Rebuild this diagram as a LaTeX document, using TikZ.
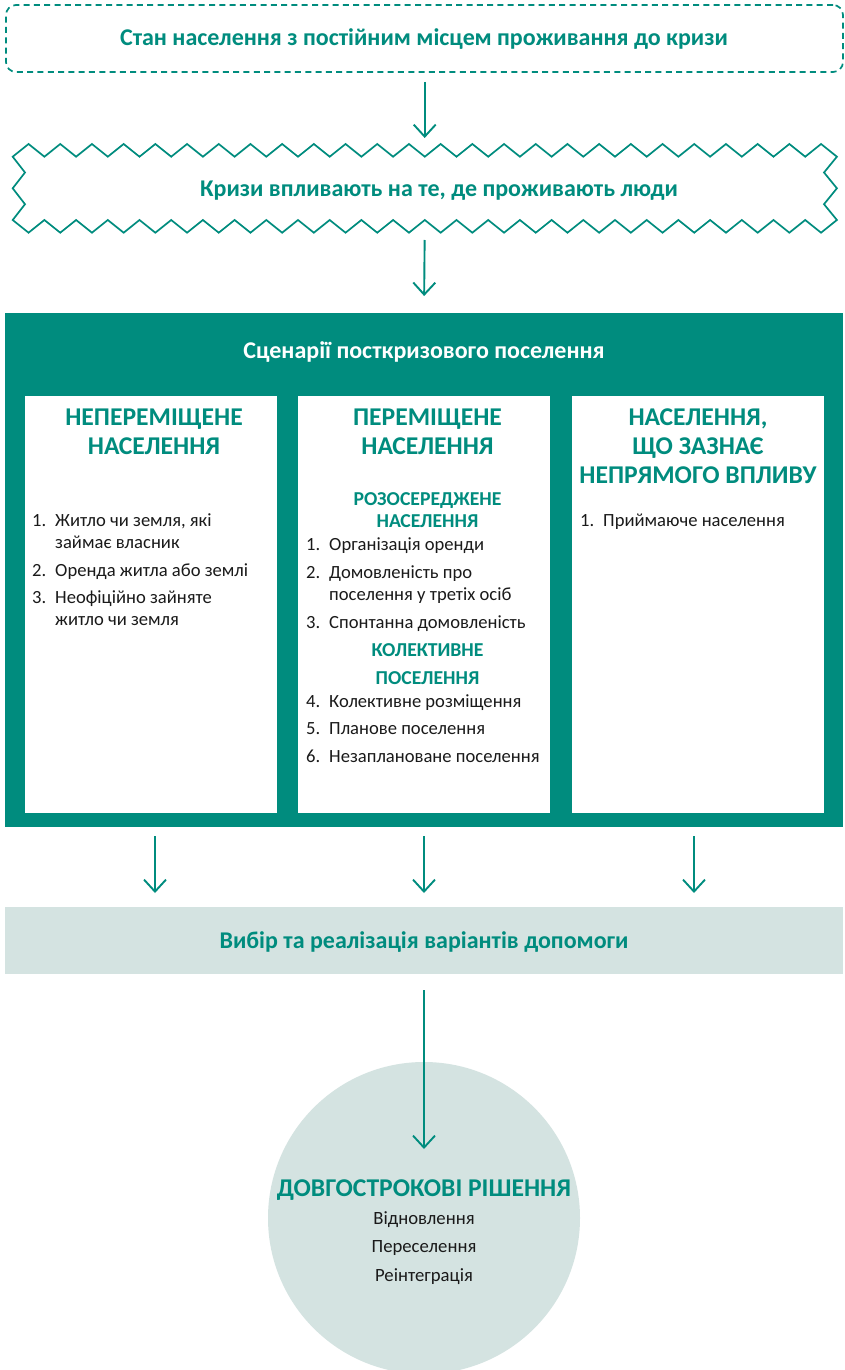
\documentclass[tikz,border=0pt]{standalone}
\usepackage{fontspec}
\setmainfont{Carlito}
\usetikzlibrary{arrows.meta}
\definecolor{teal1}{HTML}{008C7E}
\definecolor{pale}{HTML}{D4E3E1}
\definecolor{ink}{HTML}{1A1A1A}
\newcommand{\nm}[1]{\makebox[23pt][l]{#1}}
\begin{document}
\begin{tikzpicture}[x=1pt,y=-1pt,
  arr/.style={draw=teal1, line width=1.9pt, -{Straight Barb[length=12pt,width=22pt]}},
  box/.style={inner sep=0pt, outer sep=0pt, anchor=north west},
  ttl/.style={anchor=base, inner sep=0pt, font=\bfseries\fontsize{24}{24}\selectfont, text=teal1},
  head/.style={anchor=base, inner sep=0pt, font=\bfseries\fontsize{25.6}{25.6}\selectfont, text=teal1},
  sub/.style={anchor=base, inner sep=0pt, font=\bfseries\fontsize{19.7}{19.7}\selectfont, text=teal1},
  item/.style={anchor=base west, inner sep=0pt, font=\fontsize{18.6}{18.6}\selectfont, text=ink},
  sol/.style={anchor=base, inner sep=0pt, font=\fontsize{18.7}{18.7}\selectfont, text=ink}]
\useasboundingbox (0,0) rectangle (845,1370);
\fill[white] (0,0) rectangle (845,1370);

% pre-crisis box
\node[box, draw=teal1, line width=1.7pt, dash pattern=on 6pt off 4.3pt, rounded corners=10pt,
  minimum width=837pt, minimum height=67pt] (pre) at (6,5) {};
\node[ttl] (pretext) at (424,46) {Стан населення з постійним місцем проживання до кризи};

% crisis zigzag
\node[box, minimum width=824pt, minimum height=88.7pt] (crisis) at (12.7,144) {};
\draw[teal1, line width=1.7pt, line join=miter]
  (12.7,156.7) \foreach \k in {0,...,25}{ -- ({12.7+31.7*\k+15.85},144) -- ({12.7+31.7*(\k+1)},156.7)}
  -- (824,172.5) -- (836.9,188.3) -- (824,204.2) -- (836.9,220)
  \foreach \k in {25,...,0}{ -- ({12.7+31.7*\k+15.85},232.7) -- ({12.7+31.7*\k},220)}
  -- (25,204.2) -- (12.7,188.3) -- (25,172.5) -- cycle;
\node[ttl] (crisistext) at (439,196.8) {Кризи впливають на те, де проживають люди};

% scenarios
\node[box, fill=teal1, minimum width=838pt, minimum height=514pt] (scen) at (5,313) {};
\node[ttl, text=white] (scentext) at (424,358.3) {Сценарії посткризового поселення};
\node[box, fill=white, minimum width=252pt, minimum height=417pt] (p1) at (25,396) {};
\node[box, fill=white, minimum width=252pt, minimum height=417pt] (p2) at (298,396) {};
\node[box, fill=white, minimum width=252pt, minimum height=417pt] (p3) at (572,396) {};

% panel 1
\node[head] (h1a) at (154,425.3) {НЕПЕРЕМІЩЕНЕ};
\node[head] (h1b) at (154,454) {НАСЕЛЕННЯ};
\node[item] (i11) at (32,526) {\nm{1.}Житло чи земля, які};
\node[item] (i11b) at (55,548.3) {займає власник};
\node[item] (i12) at (32,576) {\nm{2.}Оренда житла або землі};
\node[item] (i13) at (32,603.5) {\nm{3.}Неофіційно зайняте};
\node[item] (i13b) at (55,625.5) {житло чи земля};

% panel 2
\node[head] (h2a) at (427.5,425.3) {ПЕРЕМІЩЕНЕ};
\node[head] (h2b) at (427.5,454) {НАСЕЛЕННЯ};
\node[sub] (s2a) at (427.5,505) {РОЗОСЕРЕДЖЕНЕ};
\node[sub] (s2b) at (427.5,527.3) {НАСЕЛЕННЯ};
\node[item] (i21) at (306,550.7) {\nm{1.}Організація оренди};
\node[item] (i22) at (306,578.3) {\nm{2.}Домовленість про};
\node[item] (i22b) at (329,600) {поселення у третіх осіб};
\node[item] (i23) at (306,628.3) {\nm{3.}Спонтанна домовленість};
\node[sub] (s2c) at (427.5,656) {КОЛЕКТИВНЕ};
\node[sub] (s2d) at (427.5,684) {ПОСЕЛЕННЯ};
\node[item] (i24) at (306,707.3) {\nm{4.}Колективне розміщення};
\node[item] (i25) at (306,734.3) {\nm{5.}Планове поселення};
\node[item] (i26) at (306,762) {\nm{6.}Незаплановане поселення};

% panel 3
\node[head] (h3a) at (698,425.3) {НАСЕЛЕННЯ,};
\node[head] (h3b) at (698,454) {ЩО ЗАЗНАЄ};
\node[head] (h3c) at (698,483.3) {НЕПРЯМОГО ВПЛИВУ};
\node[item] (i31) at (580,526) {\nm{1.}Приймаюче населення};

% band
\node[box, fill=pale, minimum width=838pt, minimum height=67pt] (band) at (5,907) {};
\node[ttl] (bandtext) at (424,948.3) {Вибір та реалізація варіантів допомоги};

% circle
\node[circle, fill=pale, inner sep=0pt, minimum size=312pt] (lt) at (424,1218) {};
\node[head, font=\bfseries\fontsize{25.6}{25.6}\selectfont] (lttext) at (424,1196) {ДОВГОСТРОКОВІ РІШЕННЯ};
\node[sol] (l1) at (424,1224) {Відновлення};
\node[sol] (l2) at (424,1252.7) {Переселення};
\node[sol] (l3) at (424,1281) {Реінтеграція};

% arrows
\coordinate (a1) at (155,836);
\coordinate (a3) at (694,836);
\coordinate (a4) at (424,1149);
\draw[arr, shorten <=10pt, shorten >=6pt] (pre.south -| crisis.north) -- (crisis.north);
\draw[arr, shorten <=7.3pt, shorten >=17pt] (crisis.south) -- (scen.north);
\draw[arr, shorten >=14pt] (a1) -- (a1 |- band.north);
\draw[arr, shorten <=9pt, shorten >=14pt] (scen.south) -- (band.north);
\draw[arr, shorten >=14pt] (a3) -- (a3 |- band.north);
\draw[arr, shorten <=16pt] (band.south) -- (a4);
\end{tikzpicture}
\end{document}
